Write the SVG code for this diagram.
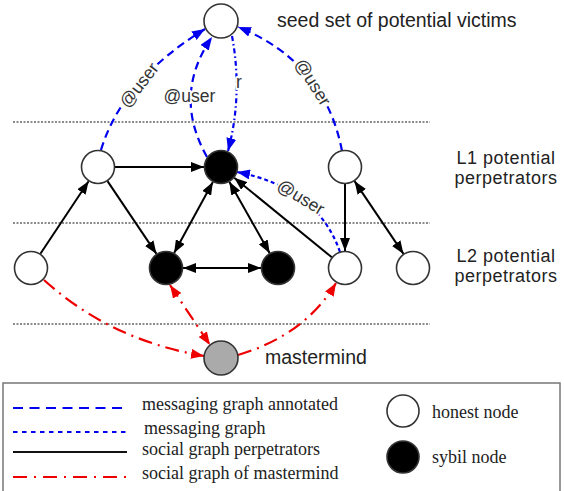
<svg xmlns="http://www.w3.org/2000/svg" width="564" height="491" viewBox="0 0 564 491">
<style>
.node{stroke:#333;stroke-width:1.6}
.honest{fill:#fff}
.sybil{fill:#000}
.master{fill:#aaa}
.div{stroke:#666;stroke-width:1.5;stroke-dasharray:2 1.5;fill:none}
.soc{stroke:#000;stroke-width:2;fill:none}
.ann{stroke:#0000ee;stroke-width:2.2;fill:none;stroke-dasharray:8 5}
.msg{stroke:#0000ee;stroke-width:2.2;fill:none;stroke-dasharray:5 3 1.5 3}
.msg2{stroke:#0000ee;stroke-width:2.2;fill:none;stroke-dasharray:4 3}
.mm{stroke:#ee0000;stroke-width:2.2;fill:none;stroke-dasharray:14 6 2 6}
.lab{font-family:"Liberation Sans",Arial,sans-serif;font-size:19.5px;fill:#222}
.lev{font-family:"Liberation Sans",Arial,sans-serif;font-size:18px;letter-spacing:0.5px;fill:#222}
.elab{font-family:"Liberation Sans",Arial,sans-serif;font-size:17.5px;fill:#333;stroke:#fff;stroke-width:4;paint-order:stroke;stroke-linejoin:round}
.leg{font-family:"Liberation Serif","Times New Roman",serif;font-size:18px;fill:#222}
</style>
<defs>
<marker id="ak" markerUnits="userSpaceOnUse" markerWidth="13" markerHeight="10" refX="13" refY="5" orient="auto-start-reverse"><path d="M0,0 L13,5 L0,10 z" fill="#000"/></marker>
<marker id="ab" markerUnits="userSpaceOnUse" markerWidth="13" markerHeight="10" refX="13" refY="5" orient="auto-start-reverse"><path d="M0,0 L13,5 L0,10 z" fill="#0000ee"/></marker>
<marker id="ar" markerUnits="userSpaceOnUse" markerWidth="13" markerHeight="10" refX="13" refY="5" orient="auto-start-reverse"><path d="M0,0 L13,5 L0,10 z" fill="#ee0000"/></marker>
</defs>

<g id="dividers">
<line class="div" x1="13" y1="122" x2="430" y2="122"/>
<line class="div" x1="13" y1="223" x2="430" y2="223"/>
<line class="div" x1="13" y1="324" x2="430" y2="324"/>
</g>

<g id="connectors">
<!-- social graph perpetrators -->
<line class="soc" x1="40.4" y1="253.8" x2="88.6" y2="181.2" marker-end="url(#ak)"/>
<line class="soc" x1="115" y1="167" x2="204" y2="167" marker-end="url(#ak)"/>
<line class="soc" x1="107.5" y1="181.1" x2="156.5" y2="253.9" marker-end="url(#ak)"/>
<line class="soc" x1="212.9" y1="181.9" x2="174.1" y2="253.1" marker-start="url(#ak)" marker-end="url(#ak)"/>
<line class="soc" x1="229.3" y1="181.8" x2="269.7" y2="253.2" marker-start="url(#ak)" marker-end="url(#ak)"/>
<line class="soc" x1="183" y1="268" x2="261" y2="268" marker-start="url(#ak)" marker-end="url(#ak)"/>
<line class="soc" x1="331.8" y1="257.3" x2="234.2" y2="177.7" marker-end="url(#ak)"/>
<line class="soc" x1="345" y1="184" x2="345" y2="251" marker-end="url(#ak)"/>
<line class="soc" x1="354.5" y1="181.1" x2="403.5" y2="253.9" marker-start="url(#ak)" marker-end="url(#ak)"/>
<!-- messaging graph -->
<path class="ann" d="M101,150 Q122,80 205,29" marker-end="url(#ab)"/>
<path class="ann" d="M207,157 Q172,95 212,37" marker-end="url(#ab)"/>
<path class="msg" d="M232,36 Q243,95 228,151" marker-end="url(#ab)"/>
<path class="ann" d="M342,151 Q325,62 238,27" marker-end="url(#ab)"/>
<path class="msg2" d="M340,252 Q318,188 237,172" marker-end="url(#ab)"/>
<!-- mastermind -->
<path class="mm" d="M44,280 Q110,340 204,356" marker-end="url(#ar)"/>
<line class="mm" x1="170" y1="285" x2="210" y2="345" marker-start="url(#ar)" marker-end="url(#ar)"/>
<path class="mm" d="M238,355 Q305,335 336,283" marker-end="url(#ar)"/>
<!-- edge labels -->
<text class="elab" text-anchor="middle" transform="translate(139,85) rotate(-52)" x="0" y="6">@user</text>
<text class="elab" text-anchor="middle" x="189.5" y="102">@user</text>
<text class="elab" text-anchor="middle" x="239" y="88">r</text>
<text class="elab" text-anchor="middle" transform="translate(313,82) rotate(58)" x="0" y="6">@user</text>
<text class="elab" text-anchor="middle" transform="translate(301,197) rotate(31)" x="0" y="6">@user</text>
</g>

<g id="seed"><circle class="node honest" cx="221" cy="21" r="17"/></g>
<g id="l1a"><circle class="node honest" cx="98" cy="167" r="16.5"/></g>
<g id="l1b"><circle class="node sybil" cx="221" cy="167" r="16.5"/></g>
<g id="l1c"><circle class="node honest" cx="345" cy="167" r="16.5"/></g>
<g id="l2d"><circle class="node honest" cx="31" cy="268" r="16.5"/></g>
<g id="l2e"><circle class="node sybil" cx="166" cy="268" r="16.5"/></g>
<g id="l2f"><circle class="node sybil" cx="278" cy="268" r="16.5"/></g>
<g id="l2g"><circle class="node honest" cx="345" cy="268" r="16.5"/></g>
<g id="l2h"><circle class="node honest" cx="413" cy="268" r="16.5"/></g>
<g id="mastermind"><circle class="node master" cx="221" cy="358" r="17"/></g>

<g id="labels">
<text class="lab" x="277" y="27">seed set of potential victims</text>
<text class="lev" text-anchor="middle" x="506" y="164">L1 potential</text>
<text class="lev" text-anchor="middle" x="506" y="184">perpetrators</text>
<text class="lev" text-anchor="middle" x="506" y="262">L2 potential</text>
<text class="lev" text-anchor="middle" x="506" y="282">perpetrators</text>
<text class="lab" x="265" y="364">mastermind</text>
</g>

<g id="legend">
<rect x="3" y="383" width="557" height="120" fill="none" stroke="#777" stroke-width="1.5"/>
<line x1="13" y1="408" x2="127" y2="408" stroke="#0000ee" stroke-width="2.2" stroke-dasharray="10 6.5"/>
<line x1="13" y1="432" x2="127" y2="432" stroke="#0000ee" stroke-width="2.2" stroke-dasharray="4.5 4.5"/>
<line x1="13" y1="452" x2="127" y2="452" stroke="#111" stroke-width="2"/>
<line x1="13" y1="477" x2="127" y2="477" stroke="#ee0000" stroke-width="2.2" stroke-dasharray="14 7 2 7"/>
<text class="leg" x="142" y="410">messaging graph annotated</text>
<text class="leg" x="144" y="434">messaging graph</text>
<text class="leg" x="142" y="455">social graph perpetrators</text>
<text class="leg" x="142" y="479">social graph of mastermind</text>
<circle class="node honest" cx="403" cy="411" r="16"/>
<circle class="node sybil" cx="403" cy="457" r="16"/>
<text class="leg" x="432" y="418">honest node</text>
<text class="leg" x="432" y="463">sybil node</text>
</g>
</svg>
